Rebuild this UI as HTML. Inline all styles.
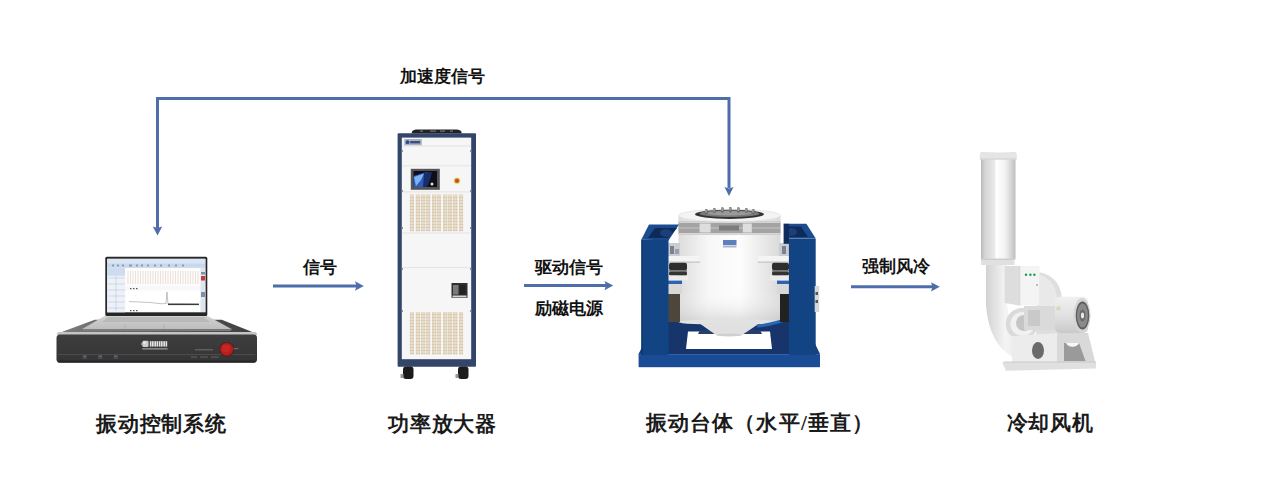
<!DOCTYPE html>
<html><head><meta charset="utf-8">
<style>
html,body{margin:0;padding:0;background:#fff;width:1280px;height:486px;overflow:hidden}
svg{display:block}
.t{font-family:"Liberation Sans",sans-serif;font-weight:bold;font-size:16.5px;fill:#111}
.b{font-family:"Liberation Serif",serif;font-weight:bold;font-size:21px;fill:#1a1a1a;letter-spacing:0.8px}
</style></head><body>
<svg width="1280" height="486" viewBox="0 0 1280 486">
<defs>
<linearGradient id="cyl" x1="0" x2="1" y1="0" y2="0">
<stop offset="0" stop-color="#dcdcdc"/><stop offset="0.3" stop-color="#f8f8f8"/><stop offset="0.6" stop-color="#fdfdfd"/><stop offset="1" stop-color="#dadada"/>
</linearGradient>
<linearGradient id="cylv" x1="0" x2="0" y1="0" y2="1">
<stop offset="0" stop-color="#fff" stop-opacity="0"/><stop offset="0.7" stop-color="#fff" stop-opacity="0"/><stop offset="1" stop-color="#bdbdbd" stop-opacity="0.5"/>
</linearGradient>
<linearGradient id="tall" x1="0" x2="1" y1="0" y2="0">
<stop offset="0" stop-color="#b9b9b9"/><stop offset="0.12" stop-color="#d6d6d6"/><stop offset="0.38" stop-color="#e8e8e8"/><stop offset="0.45" stop-color="#ffffff"/><stop offset="0.7" stop-color="#f2f2f2"/><stop offset="0.92" stop-color="#cdcdcd"/><stop offset="1" stop-color="#bdbdbd"/>
</linearGradient>
<linearGradient id="duct" x1="0" x2="1" y1="0" y2="0">
<stop offset="0" stop-color="#d2d2d2"/><stop offset="0.4" stop-color="#f4f4f4"/><stop offset="1" stop-color="#dedede"/>
</linearGradient>
<linearGradient id="motor" x1="0" x2="0" y1="0" y2="1">
<stop offset="0" stop-color="#f0f0f0"/><stop offset="0.5" stop-color="#e2e2e2"/><stop offset="1" stop-color="#c9c9c9"/>
</linearGradient>
<linearGradient id="silver" x1="0" x2="0" y1="0" y2="1">
<stop offset="0" stop-color="#d2d2d2"/><stop offset="1" stop-color="#bdbdbd"/>
</linearGradient>
<linearGradient id="boxtop" x1="0" x2="1" y1="0" y2="0">
<stop offset="0" stop-color="#7c7c7c"/><stop offset="0.5" stop-color="#606060"/><stop offset="1" stop-color="#3e3e3e"/>
</linearGradient>
<linearGradient id="face" x1="0" x2="0" y1="0" y2="1">
<stop offset="0" stop-color="#3e3e3e"/><stop offset="1" stop-color="#343434"/>
</linearGradient>
<linearGradient id="scr" x1="0" x2="1" y1="0" y2="0">
<stop offset="0" stop-color="#1d4f9c"/><stop offset="0.35" stop-color="#5a9be6"/><stop offset="0.6" stop-color="#1a2433"/><stop offset="1" stop-color="#2a2a2a"/>
</linearGradient>
<pattern id="grille" x="0" y="0" width="10" height="3" patternUnits="userSpaceOnUse">
<rect x="0" y="0" width="10" height="3" fill="#e4d8c4"/><rect x="0" y="2.1" width="10" height="0.9" fill="#d2c3aa"/>
</pattern>
</defs>

<!-- ============ ARROWS ============ -->
<g fill="none" stroke="#4d6eab" stroke-width="3">
<polyline points="157.5,228 157.5,98.5 729,98.5 729,188"/>
<line x1="273" y1="286" x2="357" y2="286"/>
<line x1="524" y1="285.6" x2="606" y2="285.6"/>
<line x1="851" y1="286.8" x2="933" y2="286.8"/>
</g>
<g fill="#4d6eab">
<polygon points="152.8,226.5 157.5,235.5 162.2,226.5 157.5,228"/>
<polygon points="724.5,187 729,196 733.5,187 729,188.5"/>
<polygon points="355,281.3 363.8,286 355,290.7 356.5,286"/>
<polygon points="604.5,281 613.2,285.6 604.5,290.2 606,285.6"/>
<polygon points="931,282.2 939.8,286.8 931,291.4 932.5,286.8"/>
</g>

<!-- ============ TEXT ============ -->
<text class="t" x="400" y="82">加速度信号</text>
<text class="t" x="302.5" y="272.5">信号</text>
<text class="t" x="534.5" y="272.5">驱动信号</text>
<text class="t" x="535" y="314.3">励磁电源</text>
<text class="t" x="861.5" y="271.8">强制风冷</text>
<text class="b" x="96" y="430.5">振动控制系统</text>
<text class="b" x="388" y="430.8">功率放大器</text>
<text class="b" x="645.5" y="430.3" style="letter-spacing:1.2px">振动台体（水平/垂直）</text>
<text class="b" x="1006.5" y="430.3">冷却风机</text>

<!-- ============ CONTROLLER + LAPTOP ============ -->
<g id="ctrl">
<polygon points="94.7,319.8 221.8,319.8 256,333.5 57.7,333.5" fill="url(#boxtop)"/>
<polygon points="58,332 256,332 257.5,335 56.5,335" fill="#c4c4c4"/>
<rect x="56.5" y="334.4" width="200.5" height="28.3" rx="3.5" fill="url(#face)"/>
<rect x="58" y="360.5" width="197.5" height="2" rx="1" fill="#262626"/>
<line x1="58" y1="354.6" x2="255" y2="354.6" stroke="#575757" stroke-width="0.7"/>
<circle cx="226.7" cy="349.5" r="7.6" fill="#4a2424"/>
<circle cx="226.7" cy="349.3" r="6.4" fill="#b81d1d"/>
<circle cx="226" cy="348.5" r="4" fill="#c52525"/>
<!-- logo -->
<path d="M141,344 L142.5,341.5 L142.5,346.5 Z" fill="#bdbdbd"/>
<rect x="142.5" y="340.8" width="6" height="6.2" rx="1.2" fill="#cfcfcf"/>
<rect x="143.3" y="341.5" width="2" height="2.5" fill="#eee"/>
<g fill="#e2e2e2">
<rect x="149.8" y="341.2" width="3.9" height="5.4"/><rect x="154.3" y="341.2" width="3.9" height="5.4"/><rect x="158.8" y="341.2" width="3.9" height="5.4"/><rect x="163.3" y="341.2" width="3.9" height="5.4"/>
</g>
<g fill="#3a3a3a"><rect x="151.5" y="341.2" width="0.5" height="5.4"/><rect x="156" y="341.2" width="0.5" height="5.4"/><rect x="160.5" y="341.2" width="0.5" height="5.4"/><rect x="165" y="341.2" width="0.5" height="5.4"/></g>
<rect x="142.3" y="348.2" width="25.3" height="1.3" fill="#9a9a9a"/>
<rect x="195" y="349" width="18" height="1.5" fill="#5e5e5e"/>
<rect x="233.5" y="348" width="5" height="1.2" fill="#6a6a6a"/>
<rect x="191" y="356.5" width="6" height="1.2" fill="#5a5a5a"/><rect x="200" y="356.5" width="8" height="1.2" fill="#5a5a5a"/><rect x="211" y="356.5" width="8" height="1.2" fill="#5a5a5a"/>
<g fill="#5b6b8c"><rect x="83" y="355.5" width="3.5" height="1.8"/><rect x="98.5" y="355.5" width="3.5" height="1.8"/><rect x="114" y="355.5" width="3.5" height="1.8"/></g>
<g fill="#5c5c5c"><rect x="82.5" y="357.8" width="4.5" height="0.8"/><rect x="98" y="357.8" width="4.5" height="0.8"/><rect x="113.5" y="357.8" width="4.5" height="0.8"/></g>
<!-- laptop base -->
<polygon points="105,315.8 207,315.8 232,329.2 81.8,329.2" fill="url(#silver)"/>
<polygon points="108,317 204,317 210,322 102,322" fill="#b9b9b9"/>
<polygon points="81.8,329.2 232,329.2 230.5,331 83.3,331" fill="#7d7d7d"/>
<line x1="125" y1="324" x2="125" y2="329" stroke="#a5a5a5" stroke-width="0.6"/>
<line x1="164" y1="324" x2="164" y2="329" stroke="#a5a5a5" stroke-width="0.6"/>
<!-- screen -->
<rect x="105.3" y="256.8" width="102" height="59.2" rx="1.5" fill="#262626"/>
<rect x="107.2" y="258.8" width="98.2" height="53.5" fill="#f7f8fb"/>
<rect x="107.2" y="258.8" width="98.2" height="4.5" fill="#d9e5f3"/>
<rect x="107.2" y="263.3" width="98.2" height="4.5" fill="#c6d8ee"/>
<g fill="#8d9bb0"><rect x="112" y="264.5" width="2" height="2"/><rect x="117" y="264.5" width="2" height="2"/><rect x="122" y="264.5" width="2" height="2"/><rect x="129" y="264.5" width="3" height="2"/><rect x="136" y="264.5" width="2" height="2"/><rect x="141" y="264.5" width="2" height="2"/><rect x="147" y="264.5" width="2" height="2"/><rect x="154" y="264.5" width="2" height="2"/><rect x="160" y="264.5" width="2" height="2"/><rect x="168" y="264.5" width="2" height="2"/><rect x="175" y="264.5" width="2" height="2"/><rect x="182" y="264.5" width="2" height="2"/></g>
<rect x="107.2" y="267.8" width="17.8" height="44.5" fill="#eef2f8"/>
<rect x="107.2" y="267.8" width="17.8" height="8" fill="#cddcee"/>
<g stroke="#a9bedb" stroke-width="0.5">
<line x1="108" y1="278" x2="125" y2="278"/><line x1="108" y1="284" x2="125" y2="284"/><line x1="108" y1="290" x2="125" y2="290"/><line x1="108" y1="296" x2="125" y2="296"/><line x1="108" y1="302" x2="125" y2="302"/><line x1="108" y1="308" x2="125" y2="308"/>
<line x1="116" y1="276" x2="116" y2="311"/>
</g>
<rect x="125.5" y="268.4" width="75" height="17.5" fill="#fdfcfb"/>
<g stroke="#e4d6cf" stroke-width="0.7">
<path d="M128,271 v13 M130.5,271 v13 M133,271 v13 M135.5,271 v13 M138,271 v13 M140.5,271 v13 M143,271 v13 M145.5,271 v13 M148,271 v13 M150.5,271 v13 M153,271 v13 M155.5,271 v13 M158,271 v13 M160.5,271 v13 M163,271 v13 M165.5,271 v13 M168,271 v13 M170.5,271 v13 M173,271 v13 M175.5,271 v13 M178,271 v13 M180.5,271 v13 M183,271 v13 M185.5,271 v13 M188,271 v13 M190.5,271 v13 M193,271 v13 M195.5,271 v13 M198,271 v13"/>
</g>
<g fill="#555"><rect x="130" y="288" width="1.5" height="1.2"/><rect x="133" y="288" width="1.5" height="1.2"/><rect x="136" y="288" width="1.5" height="1.2"/></g>
<rect x="125.5" y="290.5" width="75" height="21" fill="#fff"/>
<path d="M129,301.5 L150,302.5 L162,303.8 L166,303.5 L167,292 L168,304 L180,304 L199,304.5" fill="none" stroke="#9a9a9a" stroke-width="0.6"/>
<rect x="168" y="303.6" width="31" height="1.5" fill="#3a3a3a"/>
<g fill="#555"><rect x="130" y="310" width="1.5" height="1.2"/><rect x="133" y="310" width="1.5" height="1.2"/><rect x="136" y="310" width="1.5" height="1.2"/></g>
<rect x="200.5" y="268" width="4.9" height="44" fill="#dfe5ee"/>
<rect x="201" y="272" width="4" height="2.5" fill="#7d8ea8"/>
<rect x="201" y="276" width="4" height="4.5" fill="#c8373a"/>
<rect x="201" y="292" width="4" height="5" fill="#7d8ea8"/>
</g>

<!-- ============ POWER AMPLIFIER ============ -->
<g id="amp">
<path d="M411.7,133.5 Q411.5,130 416,129.6 L457,129.6 Q462,130 461.6,133.5 Z" fill="#222"/><g fill="#777"><rect x="420" y="130.5" width="3" height="1.2"/><rect x="430" y="130.5" width="6" height="1.2"/><rect x="440" y="130.5" width="5" height="1.2"/><rect x="450" y="130.5" width="3" height="1.2"/></g>
<rect x="397.6" y="133.3" width="78.4" height="233.5" rx="1" fill="#33466a"/>
<rect x="401.8" y="137.6" width="69.4" height="221.6" fill="#f6f6f6"/>
<g stroke="#dedede" stroke-width="0.8">
<line x1="402" y1="146" x2="471" y2="146"/>
<line x1="402" y1="165.8" x2="471" y2="165.8"/>
<line x1="402" y1="191.9" x2="471" y2="191.9"/>
<line x1="402" y1="233" x2="471" y2="233"/>
<line x1="402" y1="267.6" x2="471" y2="267.6"/>
</g>
<g fill="#8a93a5"><rect x="401.8" y="150" width="1.2" height="2"/><rect x="401.8" y="190" width="1.2" height="2"/><rect x="401.8" y="227" width="1.2" height="2"/><rect x="401.8" y="268" width="1.2" height="2"/><rect x="401.8" y="310" width="1.2" height="2"/>
<rect x="470" y="150" width="1.2" height="2"/><rect x="470" y="190" width="1.2" height="2"/><rect x="470" y="227" width="1.2" height="2"/><rect x="470" y="268" width="1.2" height="2"/><rect x="470" y="310" width="1.2" height="2"/></g>
<rect x="404.3" y="139" width="17.5" height="6.3" fill="#a9b3c6"/>
<circle cx="407.5" cy="142.2" r="1.9" fill="#2b4c92"/>
<rect x="410.2" y="141" width="10" height="2.4" fill="#3b4f7a"/>
<rect x="410.8" y="168.8" width="29" height="21" fill="#555"/>
<rect x="413.5" y="171" width="23.5" height="16" fill="#0d0f1a"/>
<polygon points="413.5,176 425,172.5 428,172 427,187 413.5,187" fill="#2a5cc4"/>
<polygon points="414,177 424,173.5 421,180 416,186" fill="#7fb4f0"/>
<polygon points="424,173 432,172 430,180 427,187 423,187" fill="#1a2c66"/>
<circle cx="432" cy="184" r="1.5" fill="#e8e0d0"/>
<circle cx="457" cy="180.8" r="3.3" fill="#f0d66a"/>
<circle cx="457" cy="180.8" r="2.3" fill="#c0602a"/>
<circle cx="457" cy="180.8" r="1" fill="#d8352a"/>
<rect x="409.9" y="194.6" width="4.1" height="36.6" fill="url(#grille)"/>
<rect x="411.6" y="194.6" width="0.6" height="36.6" fill="#efe6d8"/>
<rect x="415.8" y="194.6" width="4.4" height="36.6" fill="url(#grille)"/>
<rect x="417.7" y="194.6" width="0.6" height="36.6" fill="#efe6d8"/>
<rect x="421.0" y="194.6" width="4.0" height="36.6" fill="url(#grille)"/>
<rect x="422.7" y="194.6" width="0.6" height="36.6" fill="#efe6d8"/>
<rect x="425.6" y="194.6" width="4.6" height="36.6" fill="url(#grille)"/>
<rect x="427.6" y="194.6" width="0.6" height="36.6" fill="#efe6d8"/>
<rect x="432.0" y="194.6" width="4.4" height="36.6" fill="url(#grille)"/>
<rect x="433.9" y="194.6" width="0.6" height="36.6" fill="#efe6d8"/>
<rect x="436.9" y="194.6" width="4.1" height="36.6" fill="url(#grille)"/>
<rect x="438.6" y="194.6" width="0.6" height="36.6" fill="#efe6d8"/>
<rect x="443.0" y="194.6" width="4.2" height="36.6" fill="url(#grille)"/>
<rect x="444.8" y="194.6" width="0.6" height="36.6" fill="#efe6d8"/>
<rect x="447.7" y="194.6" width="4.4" height="36.6" fill="url(#grille)"/>
<rect x="449.6" y="194.6" width="0.6" height="36.6" fill="#efe6d8"/>
<rect x="452.8" y="194.6" width="4.7" height="36.6" fill="url(#grille)"/>
<rect x="454.8" y="194.6" width="0.6" height="36.6" fill="#efe6d8"/>
<rect x="459.0" y="194.6" width="4.1" height="36.6" fill="url(#grille)"/>
<rect x="460.8" y="194.6" width="0.6" height="36.6" fill="#efe6d8"/>
<rect x="451.5" y="283" width="16" height="14.8" fill="#2f2f2f"/>
<rect x="453" y="285" width="5.5" height="9.5" fill="#7a7a7a"/>
<rect x="459.5" y="285" width="6" height="9.5" fill="#222"/>
<rect x="452.5" y="295.5" width="14" height="1.8" fill="#d5d5d5"/>
<rect x="409.9" y="312" width="4.1" height="42.5" fill="url(#grille)"/>
<rect x="411.6" y="312" width="0.6" height="42.5" fill="#efe6d8"/>
<rect x="415.8" y="312" width="4.4" height="42.5" fill="url(#grille)"/>
<rect x="417.7" y="312" width="0.6" height="42.5" fill="#efe6d8"/>
<rect x="421.0" y="312" width="4.0" height="42.5" fill="url(#grille)"/>
<rect x="422.7" y="312" width="0.6" height="42.5" fill="#efe6d8"/>
<rect x="425.6" y="312" width="4.6" height="42.5" fill="url(#grille)"/>
<rect x="427.6" y="312" width="0.6" height="42.5" fill="#efe6d8"/>
<rect x="432.0" y="312" width="4.4" height="42.5" fill="url(#grille)"/>
<rect x="433.9" y="312" width="0.6" height="42.5" fill="#efe6d8"/>
<rect x="436.9" y="312" width="4.1" height="42.5" fill="url(#grille)"/>
<rect x="438.6" y="312" width="0.6" height="42.5" fill="#efe6d8"/>
<rect x="443.0" y="312" width="4.2" height="42.5" fill="url(#grille)"/>
<rect x="444.8" y="312" width="0.6" height="42.5" fill="#efe6d8"/>
<rect x="447.7" y="312" width="4.4" height="42.5" fill="url(#grille)"/>
<rect x="449.6" y="312" width="0.6" height="42.5" fill="#efe6d8"/>
<rect x="452.8" y="312" width="4.7" height="42.5" fill="url(#grille)"/>
<rect x="454.8" y="312" width="0.6" height="42.5" fill="#efe6d8"/>
<rect x="459.0" y="312" width="4.1" height="42.5" fill="url(#grille)"/>
<rect x="460.8" y="312" width="0.6" height="42.5" fill="#efe6d8"/>
<!-- wheels -->
<rect x="403" y="366.5" width="10.5" height="12.5" rx="3" fill="#1c1c1c"/>
<rect x="458" y="366.5" width="10.5" height="12.5" rx="3" fill="#1c1c1c"/>
<rect x="400.5" y="374" width="3" height="4" fill="#9a9a9a"/>
<rect x="455.5" y="374" width="3" height="4" fill="#9a9a9a"/>
</g>

<!-- ============ SHAKER ============ -->
<g id="shaker">
<!-- base inner (dark) -->
<polygon points="652,321.8 806,321.8 814,354 644,354" fill="#17356a"/>
<polygon points="688,331.5 770,331.5 772,349 686,349" fill="#ffffff"/>
<polygon points="700,330 760,330 762,334 698,334" fill="#263f6e"/>
<!-- base plate front -->
<rect x="638.6" y="354" width="181.4" height="13.2" fill="#1a4c95"/>
<rect x="638.6" y="354" width="181.4" height="1" fill="#2f62b0"/>
<polygon points="644,343 668.5,343 668.5,354 638.6,354" fill="#143f80"/>
<polygon points="788.9,343 814.7,343 820,354 788.9,354" fill="#143f80"/>
<!-- cylinder -->
<rect x="678.5" y="216" width="102" height="106" fill="url(#cyl)"/>
<rect x="678.5" y="216" width="102" height="106" fill="url(#cylv)"/>
<ellipse cx="729.5" cy="322" rx="51" ry="3" fill="#e2e2e2"/>
<polygon points="699,323 760,323 742,335 716,335" fill="#e0e0e0"/>
<ellipse cx="729" cy="335" rx="13" ry="1.5" fill="#cfcfcf"/>
<path d="M757,326 Q772,325 790,318" fill="none" stroke="#2a65b5" stroke-width="3"/>
<!-- band -->
<rect x="678.5" y="221.5" width="102" height="13" fill="#a3a3a3"/>
<rect x="678.5" y="221.5" width="102" height="1.5" fill="#d5d5d5"/>
<rect x="678.5" y="233" width="102" height="1.5" fill="#d8d8d8"/>
<rect x="678.5" y="227.5" width="102" height="1" fill="#c5c5c5"/>
<rect x="699.6" y="223.5" width="11" height="9" fill="#dedede"/>
<rect x="742.8" y="223.5" width="9" height="9" fill="#dedede"/>
<rect x="719" y="225.5" width="20" height="5" fill="#7d7d7d"/>
<!-- top -->
<ellipse cx="729.5" cy="215.5" rx="51" ry="6.3" fill="#f4f4f4" stroke="#dcdcdc" stroke-width="0.6"/>
<ellipse cx="729.5" cy="214.3" rx="34.5" ry="4.6" fill="#333"/>
<ellipse cx="729.5" cy="213.6" rx="30" ry="3.4" fill="#7a7a7a"/>
<ellipse cx="729.5" cy="213.2" rx="22" ry="2.2" fill="#9a9a9a"/>
<g fill="#6a6a6a">
<rect x="705" y="209" width="2.6" height="5" rx="1"/><rect x="713" y="208" width="2.6" height="5" rx="1"/><rect x="721" y="207.3" width="2.6" height="5.5" rx="1"/><rect x="729" y="207" width="2.6" height="5.5" rx="1"/><rect x="737" y="207.3" width="2.6" height="5.5" rx="1"/><rect x="745" y="208" width="2.6" height="5" rx="1"/><rect x="752" y="209" width="2.6" height="5" rx="1"/>
</g>
<g fill="#c5c5c5">
<rect x="705.5" y="209.5" width="1" height="3"/><rect x="713.5" y="208.5" width="1" height="3"/><rect x="721.5" y="208" width="1" height="3"/><rect x="729.5" y="207.5" width="1" height="3"/><rect x="737.5" y="208" width="1" height="3"/><rect x="745.5" y="208.5" width="1" height="3"/><rect x="752.5" y="209.5" width="1" height="3"/>
</g>
<rect x="723" y="240" width="13.5" height="5" fill="#5d7fbd"/>
<rect x="723" y="245.5" width="13.5" height="2" fill="#a9b4c8"/>
<!-- springs/brackets left -->
<rect x="668" y="243" width="12" height="13" fill="#c9cdd3"/>
<rect x="670" y="246" width="4" height="8" fill="#7d828a"/>
<rect x="675" y="249" width="4" height="5" fill="#9aa0a8"/>
<rect x="668" y="256" width="32" height="6" fill="#f4f4f4"/>
<rect x="668" y="261.5" width="32" height="1.2" fill="#c2c2c2"/>
<rect x="669" y="262.7" width="18" height="7.5" rx="2" fill="#2e2e2e"/>
<rect x="669" y="270" width="18" height="1.6" fill="#777"/>
<rect x="669" y="271.6" width="18" height="4" rx="1.5" fill="#333"/>
<rect x="668" y="275.6" width="20" height="5" fill="#ececec"/>
<rect x="668" y="280.6" width="14" height="3.5" fill="#2f61b3"/>
<rect x="668" y="284" width="14" height="10" fill="#d8d8d8"/>
<rect x="668" y="294" width="12" height="28" fill="#4e463a"/>
<!-- springs/brackets right -->
<rect x="779" y="243" width="10" height="13" fill="#c9cdd3"/>
<rect x="782" y="246" width="4" height="8" fill="#7d828a"/>
<rect x="758" y="256" width="31" height="6" fill="#f4f4f4"/>
<rect x="758" y="261.5" width="31" height="1.2" fill="#c2c2c2"/>
<rect x="772" y="262.7" width="17" height="7.5" rx="2" fill="#2e2e2e"/>
<rect x="772" y="270" width="17" height="1.6" fill="#777"/>
<rect x="772" y="271.6" width="17" height="4" rx="1.5" fill="#333"/>
<rect x="770" y="275.6" width="19" height="5" fill="#ececec"/>
<rect x="777" y="280.6" width="12" height="3.5" fill="#2f61b3"/>
<rect x="777" y="284" width="12" height="10" fill="#d8d8d8"/>
<rect x="780" y="294" width="9" height="28" fill="#222"/>
<!-- pillars -->
<polygon points="649,224.6 679,224.6 668.5,240.5 641.4,239.5" fill="#1b4c92"/>
<polygon points="655,228 677,228 668,238 648,238" fill="#0e2a58"/><ellipse cx="666" cy="233" rx="6" ry="4" fill="#1d3f78"/>
<rect x="641.4" y="239.5" width="27.1" height="115.5" fill="#124484"/>
<rect x="641.4" y="239.5" width="1.2" height="115.5" fill="#0d3366"/>
<polygon points="783.6,223.8 806.4,223.8 815.7,238.6 789,238.6" fill="#1b4c92"/>
<polygon points="786,226.5 801,226.5 808,237 790,237" fill="#0e2a58"/><ellipse cx="792" cy="232" rx="5" ry="4" fill="#1d3f78"/>
<rect x="783.6" y="223.8" width="5.4" height="20" fill="#0f2c5c"/>
<rect x="788.9" y="238.6" width="26.8" height="116.4" fill="#124484"/>
<rect x="814.7" y="286" width="4.5" height="26" fill="#d8d8d8"/>
<rect x="815.5" y="292" width="2.5" height="3" fill="#555"/><rect x="815.5" y="300" width="2.5" height="3" fill="#555"/>
</g>

<!-- ============ BLOWER ============ -->
<g id="blower">
<!-- volute housing -->
<path d="M1038,272 Q1061,276 1062,300 L1062,336 L1036,336 Z" fill="#dedede"/>
<path d="M1040,275 Q1056,280 1057,300 L1057,330 L1040,330 Z" fill="#e9e9e9"/>
<!-- J duct -->
<path d="M986,265 L1007,265 L1007,305 Q1010,338 1034,352 L1016,359 Q989,346 986,305 Z" fill="url(#duct)"/>
<!-- ring inlet -->
<circle cx="1021.8" cy="324" r="16" fill="#dadada"/>
<circle cx="1022.5" cy="324" r="12" fill="#f1f1f1"/>
<circle cx="1024" cy="323" r="8" fill="#c5c5c5"/>
<!-- shaft housing -->
<rect x="1024" y="306" width="33" height="24" fill="#dadada"/>
<rect x="1028" y="310" width="12" height="16" fill="#c9c9c9"/>
<!-- tall cylinder -->
<rect x="981" y="152.4" width="34.5" height="107" fill="url(#tall)"/>
<rect x="979.8" y="152.4" width="37" height="7" rx="1.5" fill="#e5e5e5"/>
<rect x="979.8" y="158.5" width="37" height="1" fill="#cfcfcf"/>
<rect x="981" y="258.7" width="33.4" height="6.3" fill="#e0e0e0"/>
<rect x="981" y="258.7" width="33.4" height="1" fill="#c5c5c5"/>
<!-- control box -->
<polygon points="1004.6,266 1019.4,266 1019.4,305.5 1004.6,303" fill="#dddddd"/>
<rect x="1019.4" y="266" width="20.2" height="39.5" fill="#f4f4f4"/>
<rect x="1019.4" y="266" width="0.8" height="39.5" fill="#c9c9c9"/>
<circle cx="1026" cy="274.7" r="1.2" fill="#1a9c4a"/>
<circle cx="1030.4" cy="274.7" r="1.2" fill="#1a9c4a"/>
<circle cx="1034.4" cy="274.7" r="1.2" fill="#1a9c4a"/>
<circle cx="1037" cy="285" r="0.8" fill="#777"/>
<!-- motor -->
<rect x="1055" y="296.7" width="33" height="36.3" rx="5" fill="url(#motor)"/>
<circle cx="1058.5" cy="308.5" r="2.3" fill="#ddd6b8"/>
<ellipse cx="1082" cy="315.5" rx="8.5" ry="17.5" fill="#d5d5d5"/>
<ellipse cx="1082.5" cy="315.5" rx="6.8" ry="14" fill="#5e5e5e"/>
<ellipse cx="1082.5" cy="315.5" rx="5.5" ry="12" fill="#8a8a8a"/>
<ellipse cx="1082.5" cy="315.5" rx="3" ry="6" fill="#6a6a6a"/>
<ellipse cx="1082.5" cy="315.5" rx="1.6" ry="3" fill="#e8e8e8"/>
<!-- base -->
<polygon points="1012,336.3 1057,333 1057,364 1012,364" fill="#ececec"/>
<polygon points="1057,333 1088,333 1095.7,364 1057,364" fill="#d9d9d9"/>
<polygon points="1064,343 1079,343 1085.5,361 1064,361" fill="#9a9a9a"/>
<path d="M1066,343 a7,6 0 0,0 13,0 z" fill="#f7f7f7"/>
<ellipse cx="1038" cy="350.5" rx="6" ry="8.5" fill="#6a6a6a"/>
<polygon points="1002,362 1096,362 1096,368.5 1006,370.8" fill="#e0e0e0"/>
<line x1="1004" y1="362" x2="1096" y2="362" stroke="#c4c4c4" stroke-width="0.8"/>
</g>
</svg>
</body></html>
